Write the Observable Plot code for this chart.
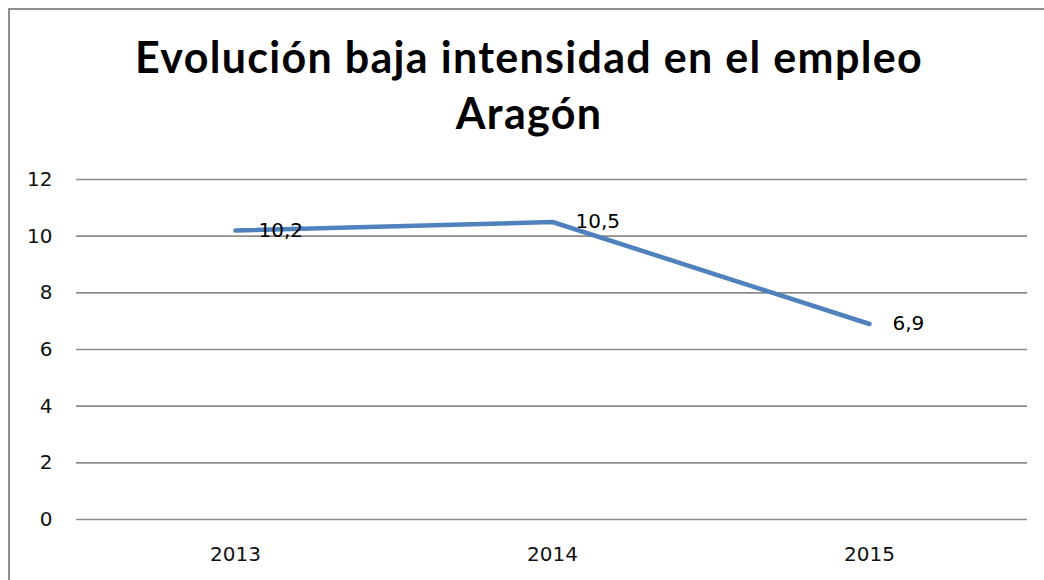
<!DOCTYPE html>
<html>
<head>
<meta charset="utf-8">
<script src="https://cdn.jsdelivr.net/npm/d3@7"></script>
<script src="https://cdn.jsdelivr.net/npm/@observablehq/plot@0.6"></script>
<style>
  html, body { margin: 0; padding: 0; background: #fff; width: 1044px; height: 580px; overflow: hidden; }
  #frame { position: absolute; left: 8px; top: 8px; width: 1100px; height: 700px; border: 2px solid #909090; box-sizing: border-box; z-index: 3; pointer-events: none; }
  #title { position: absolute; left: 0; top: 29px; width: 1058px; text-align: center; font-family: Lato, sans-serif; font-weight: bold; font-size: 43px; letter-spacing: 1.3px; line-height: 56px; color: #000; }
  #chart { position: absolute; left: 0; top: 150px; }
</style>
</head>
<body>
<div id="frame"></div>
<div id="title">Evolución baja intensidad en el empleo<br>Aragón</div>
<div id="chart"></div>
<script>
const years = ["2013", "2014", "2015"];
const values = [10.2, 10.5, 6.9];
const valueLabels = ["10,2", "10,5", "6,9"];
const yTicks = [0, 2, 4, 6, 8, 10, 12];

const data = years.map((y, i) => ({year: y, value: values[i], label: valueLabels[i]}));

const plot = Plot.plot({
  width: 1044,
  height: 419,
  marginLeft: 76,
  marginRight: 17,
  marginTop: 29,
  marginBottom: 50,
  x: {type: "point", domain: years, padding: 0.5, label: null},
  y: {domain: [0, 12], label: null},
  style: {fontFamily: "'DejaVu Sans', sans-serif", fontSize: "20px", color: "#000", background: "transparent"},
  marks: [
    Plot.ruleY(yTicks, {stroke: "#8c8c8c", strokeWidth: 1.6}),
    Plot.axisY({ticks: yTicks, tickSize: 0, tickPadding: 24, label: null, fill: "#111"}),
    Plot.axisX({tickSize: 0, tickPadding: 27, label: null, fill: "#111"}),
    Plot.line(data, {x: "year", y: "value", stroke: "#4F81BD", strokeWidth: 4.5, strokeLinecap: "round", strokeLinejoin: "round"}),
    Plot.text(data, {x: "year", y: "value", text: "label", textAnchor: "start", dx: 23, fill: "#000"})
  ]
});
document.getElementById("chart").appendChild(plot);
</script>
</body>
</html>
